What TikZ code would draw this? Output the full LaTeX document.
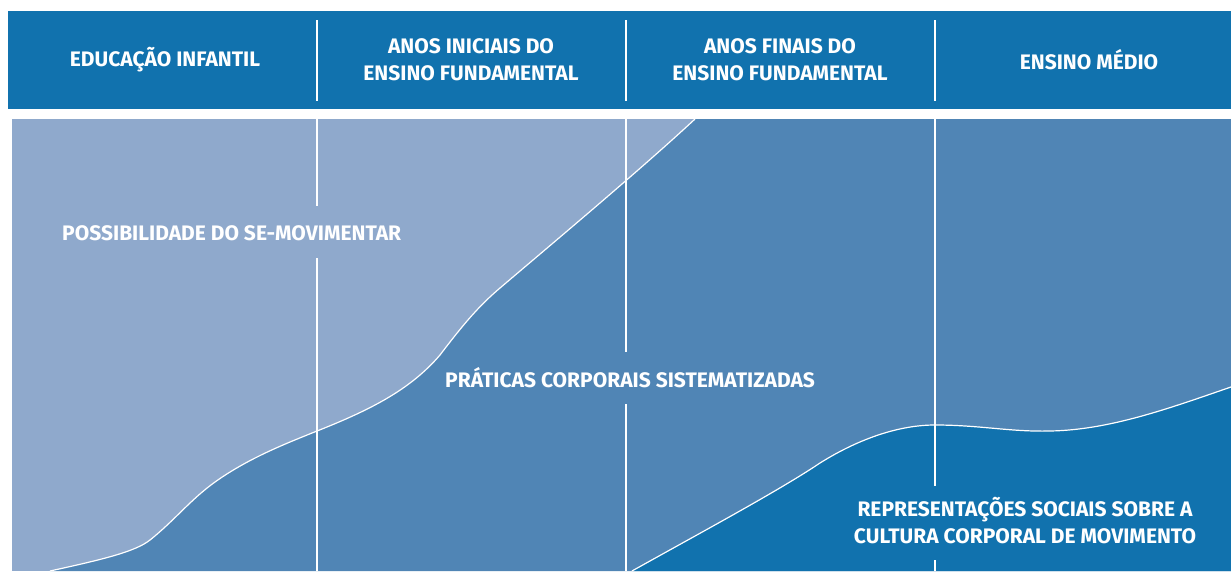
\documentclass[tikz,border=0pt]{standalone}
\usepackage{fontspec}
\setmainfont{Fira Sans}
\usetikzlibrary{positioning}
\definecolor{hdrblue}{RGB}{17,114,174}
\definecolor{lightblue}{RGB}{143,169,204}
\definecolor{midblue}{RGB}{80,133,181}
\tikzstyle{lbl}=[text=white, font=\bfseries\fontsize{21}{27}\selectfont, inner sep=0pt, align=center]
\tikzstyle{sep}=[white, line width=2pt]
\tikzstyle{edge}=[white, line width=1.2pt]

\begin{document}
\begin{tikzpicture}[x=1pt,y=-1pt]
\useasboundingbox (0,0) rectangle (1231,571);
% header bar
\fill[hdrblue] (8,11) rectangle (1231,109);
\node (ei) [lbl] at (165,60) {EDUCAÇÃO INFANTIL};
\node (ai) [lbl] at (471,60) {ANOS INICIAIS DO\\ENSINO FUNDAMENTAL};
\node (af) [lbl] at (780,60) {ANOS FINAIS DO\\ENSINO FUNDAMENTAL};
\node (em) [lbl] at (1089,60) {ENSINO MÉDIO};
\foreach \x in {317,626,935}
  \draw[sep] (\x,20) -- (\x,101);

% the three bands
\fill[lightblue] (12,119) rectangle (1231,571);
\fill[midblue] (50,571) .. controls (100,560) and (135,552) .. (150,540)
  .. controls (175,520) and (190,500) .. (215,482)
  .. controls (250,457) and (290,442) .. (317,431)
  .. controls (370,410) and (410,390) .. (440,355)
  .. controls (465,322) and (480,305) .. (500,288)
  .. controls (560,237) and (640,170) .. (695,119)
  -- (1231,119) -- (1231,571) -- cycle;
\fill[hdrblue] (632,571) .. controls (700,533) and (780,490) .. (820,463)
  .. controls (860,438) and (900,425) .. (935,425)
  .. controls (980,425) and (1010,432) .. (1050,431)
  .. controls (1110,430) and (1170,408) .. (1231,387)
  -- (1231,571) -- cycle;
\draw[edge] (50,571) .. controls (100,560) and (135,552) .. (150,540)
  .. controls (175,520) and (190,500) .. (215,482)
  .. controls (250,457) and (290,442) .. (317,431)
  .. controls (370,410) and (410,390) .. (440,355)
  .. controls (465,322) and (480,305) .. (500,288)
  .. controls (560,237) and (640,170) .. (695,119);
\draw[edge] (632,571) .. controls (700,533) and (780,490) .. (820,463)
  .. controls (860,438) and (900,425) .. (935,425)
  .. controls (980,425) and (1010,432) .. (1050,431)
  .. controls (1110,430) and (1170,408) .. (1231,387);

% labels
\node (se) [lbl,anchor=west] at (62,233) {POSSIBILIDADE DO SE-MOVIMENTAR};
\node (pc) [lbl,anchor=west] at (445,378) {PRÁTICAS CORPORAIS SISTEMATIZADAS};
\node (rs) [lbl] at (1025,521) {REPRESENTAÇÕES SOCIAIS SOBRE A\\CULTURA CORPORAL DE MOVIMENTO};

% column lines, broken round the labels
\coordinate (a1) at (317,119); \coordinate (a2) at (317,206);
\coordinate (a3) at (317,258); \coordinate (a4) at (317,571);
\coordinate (b1) at (626,119); \coordinate (b2) at (626,352);
\coordinate (b3) at (626,404); \coordinate (b4) at (626,571);
\coordinate (c1) at (935,119); \coordinate (c2) at (935,486);
\coordinate (c3) at (935,560); \coordinate (c4) at (935,571);
\draw[sep] (a1) -- (a2) (a3) -- (a4);
\draw[sep] (b1) -- (b2) (b3) -- (b4);
\draw[sep] (c1) -- (c2) (c3) -- (c4);
\end{tikzpicture}
\end{document}
